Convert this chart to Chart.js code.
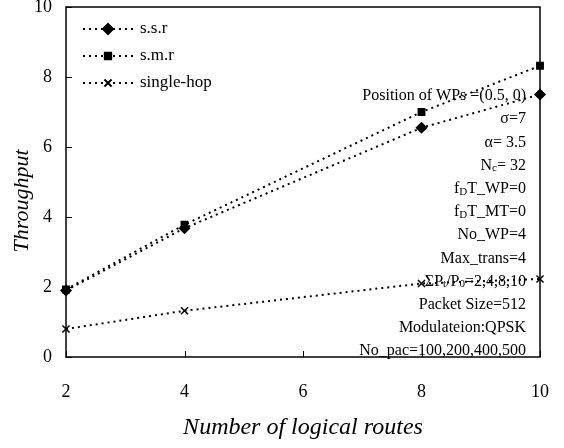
<!DOCTYPE html>
<html>
<head>
<meta charset="utf-8">
<script src="https://cdn.jsdelivr.net/npm/chart.js@4.4.1/dist/chart.umd.min.js"></script>
<style>
    html, body { margin: 0; padding: 0; background: #fff; }
    #wrap { width: 564px; height: 448px; }
</style>
</head>
<body>
<div id="wrap"><canvas id="chart" width="564" height="448"></canvas></div>
<script>
// routes on the x axis
const routes = [2, 4, 8, 10];

// throughput per series
const ssr = [1.9, 3.68, 6.55, 7.5];
const smr = [1.93, 3.78, 7.0, 8.32];
const singleHop = [0.8, 1.32, 2.1, 2.23];

const seriesNames = ['s.s.r', 's.m.r', 'single-hop'];
const xTicks = [2, 4, 6, 8, 10];
const yTicks = [0, 2, 4, 6, 8, 10];
const yTitle = 'Throughput';
const xTitle = 'Number of logical routes';

// parameter notes, each line as [text, subscript] pieces
const notes = [
    [['Position of WPs =(0.5, 0)', false]],
    [['\u03c3=7', false]],
    [['\u03b1= 3.5', false]],
    [['N', false], ['c', true], ['= 32', false]],
    [['f', false], ['D', true], ['T_WP=0', false]],
    [['f', false], ['D', true], ['T_MT=0', false]],
    [['No_WP=4', false]],
    [['Max_trans=4', false]],
    [['\u03a3P', false], ['t', true], ['/P', false], ['0', true], ['=2,4,8,10', false]],
    [['Packet Size=512', false]],
    [['Modulateion:QPSK', false]],
    [['No_pac=100,200,400,500', false]]
];

const SERIF = '"Liberation Serif", "DejaVu Serif", serif';

function toPoints(values) {
    return routes.map(function (r, i) { return { x: r, y: values[i] }; });
}

function lineSet(label, values, style, radius) {
    return {
        label: label,
        data: toPoints(values),
        borderColor: '#000',
        backgroundColor: '#000',
        borderWidth: 2,
        borderDash: [2, 4],
        pointStyle: style,
        pointRadius: radius,
        pointBorderWidth: 1.5,
        fill: false,
        tension: 0,
        clip: false
    };
}

function noPad(s) {
    s.paddingTop = 0;
    s.paddingBottom = 0;
    s.paddingLeft = 0;
    s.paddingRight = 0;
}

const framePlugin = {
    id: 'frame',
    afterDatasetsDraw: function (chart) {
        const ctx = chart.ctx;
        const a = chart.chartArea;
        const xs = chart.scales.x;
        const ys = chart.scales.y;
        ctx.save();
        ctx.strokeStyle = '#000';
        ctx.fillStyle = '#000';
        ctx.lineWidth = 1.5;
        ctx.strokeRect(a.left, a.top, a.right - a.left, a.bottom - a.top);

        // inward tick marks
        ctx.lineWidth = 1;
        ctx.beginPath();
        yTicks.forEach(function (v) {
            const y = Math.round(ys.getPixelForValue(v)) + 0.5;
            ctx.moveTo(a.left, y);
            ctx.lineTo(a.left + 6, y);
        });
        xTicks.forEach(function (v) {
            const x = Math.round(xs.getPixelForValue(v)) + 0.5;
            ctx.moveTo(x, a.bottom);
            ctx.lineTo(x, a.bottom - 6);
        });
        ctx.stroke();

        // y title, sits a bit below the middle like the original
        ctx.save();
        ctx.translate(22, 201);
        ctx.rotate(-Math.PI / 2);
        ctx.font = 'italic 22px ' + SERIF;
        ctx.textAlign = 'center';
        ctx.textBaseline = 'middle';
        ctx.fillText(yTitle, 0, 0);
        ctx.restore();

        // legend in the upper left
        ctx.textBaseline = 'middle';
        ctx.font = '17px ' + SERIF;
        chart.data.datasets.forEach(function (ds, i) {
            const y = a.top + 22 + i * 27;
            const x0 = a.left + 17;
            ctx.setLineDash([2, 4]);
            ctx.lineWidth = 2;
            ctx.beginPath();
            ctx.moveTo(x0, y);
            ctx.lineTo(x0 + 54, y);
            ctx.stroke();
            ctx.setLineDash([]);
            Chart.helpers.drawPoint(ctx, {
                pointStyle: ds.pointStyle,
                radius: ds.pointRadius,
                borderWidth: 1.5
            }, x0 + 25, y);
            ctx.textAlign = 'left';
            ctx.fillText(ds.label, x0 + 57, y);
        });

        // notes, right aligned
        const right = a.right - 14;
        notes.forEach(function (line, i) {
            const y = a.top + 89 + i * 23.2;
            let total = 0;
            line.forEach(function (p) {
                ctx.font = (p[1] ? '11px ' : '16px ') + SERIF;
                total += ctx.measureText(p[0]).width;
            });
            let x = right - total;
            ctx.textAlign = 'left';
            line.forEach(function (p) {
                ctx.font = (p[1] ? '11px ' : '16px ') + SERIF;
                ctx.fillText(p[0], x, p[1] ? y + 3 : y);
                x += ctx.measureText(p[0]).width;
            });
        });
        ctx.restore();
    }
};

new Chart(document.getElementById('chart'), {
    type: 'line',
    data: {
        datasets: [
            lineSet(seriesNames[0], ssr, 'rectRot', 5),
            lineSet(seriesNames[1], smr, 'rect', 4.5),
            lineSet(seriesNames[2], singleHop, 'crossRot', 5)
        ]
    },
    options: {
        responsive: false,
        animation: false,
        layout: { padding: { top: 7, right: 24, left: 0, bottom: 0 } },
        plugins: {
            legend: { display: false },
            tooltip: { enabled: false }
        },
        scales: {
            x: {
                type: 'linear',
                min: 2,
                max: 10,
                afterBuildTicks: function (s) { s.ticks = xTicks.map(function (v) { return { value: v }; }); },
                afterFit: function (s) { s.height = 91; noPad(s); },
                grid: { display: false, drawTicks: false },
                border: { display: false },
                ticks: { color: '#000', padding: 24, font: { family: SERIF, size: 18 } },
                title: {
                    display: true,
                    text: xTitle,
                    color: '#000',
                    padding: { top: 0, bottom: 6 },
                    font: { family: SERIF, size: 24, style: 'italic' }
                }
            },
            y: {
                min: 0,
                max: 10,
                afterBuildTicks: function (s) { s.ticks = yTicks.map(function (v) { return { value: v }; }); },
                afterFit: function (s) { s.width = 66; noPad(s); },
                grid: { display: false, drawTicks: false },
                border: { display: false },
                ticks: { color: '#000', padding: 14, font: { family: SERIF, size: 18 } },
                title: { display: false }
            }
        }
    },
    plugins: [framePlugin]
});
</script>
</body>
</html>
